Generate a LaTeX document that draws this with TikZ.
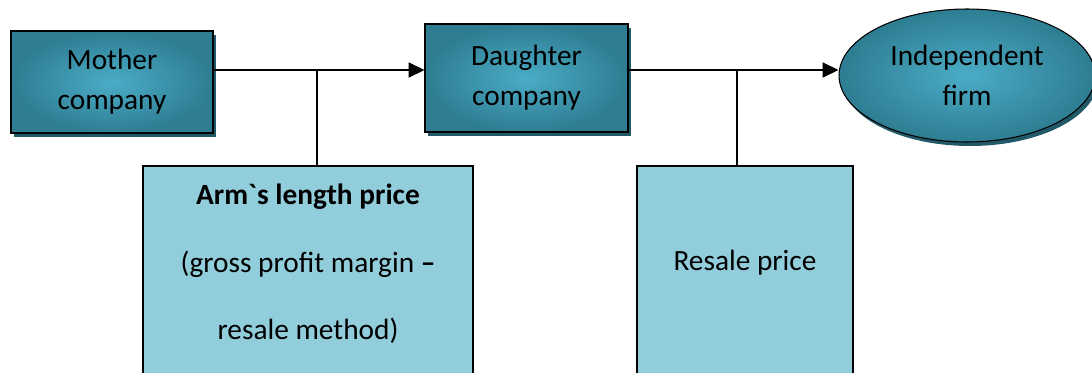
\documentclass[tikz,border=0pt]{standalone}
\usepackage{fontspec}
\setmainfont{Carlito}
\definecolor{tealDark}{HTML}{2E7D92}
\definecolor{tealLight}{HTML}{4BACC6}
\definecolor{tealShadow}{HTML}{215968}
\definecolor{aquaPale}{HTML}{92CDDC}
\usetikzlibrary{shapes.geometric, arrows.meta, shadows, calc}

\begin{document}
\begin{tikzpicture}[
    x=0.02cm, y=-0.02cm,
    firm/.style={rectangle, draw=black, line width=0.6pt, shading=radial, inner color=tealLight, outer color=tealDark,
                 drop shadow={shadow xshift=0.06cm, shadow yshift=-0.08cm, fill=tealShadow, opacity=1},
                 align=center, font=\fontsize{16.7}{22.7}\selectfont},
    pricebox/.style={rectangle, draw=black, line width=0.9pt, fill=aquaPale, anchor=north, minimum height=4.4cm},
    pricetext/.style={align=center, font=\fontsize{16.7}{38.5}\selectfont},
    arrow/.style={-{Triangle[length=9pt, width=8.5pt]}, line width=0.9pt}
  ]
  \clip (0,0) rectangle (1092,372);
  \node[firm, minimum width=4.04cm, minimum height=2.04cm] (mother) at (112,82) {Mother\\company};
  \node[firm, minimum width=4.06cm, minimum height=2.16cm] (daughter) at (526.5,78) {Daughter\\company};
  \node[firm, shape=ellipse, inner sep=0pt, minimum width=5.12cm, minimum height=2.66cm] (indep) at (967,75.5) {Independent\\firm};
  \node[pricebox, minimum width=6.6cm] (arm) at (308,165) {};
  \node[pricebox, minimum width=4.32cm] (resale) at (745,165) {};
  \node[pricetext] (armtext) at ($(arm.north)+(0,99)$) {\textbf{Arm\textasciigrave s length price}\\(gross profit margin \textbf{–}\\resale method)};
  \node[pricetext] (resaletext) at ($(resale.north)+(0,98)$) {Resale price};
  \coordinate (j1) at (317,70);
  \coordinate (j2) at (737,70);
  \draw[arrow] (mother.east |- j1) -- (daughter.west |- j1);
  \draw[arrow] (daughter.east |- j2) -- (indep.west |- j2);
  \draw[line width=0.8pt] (j1) -- (j1 |- arm.north);
  \draw[line width=0.8pt] (j2) -- (j2 |- resale.north);
\end{tikzpicture}
\end{document}
